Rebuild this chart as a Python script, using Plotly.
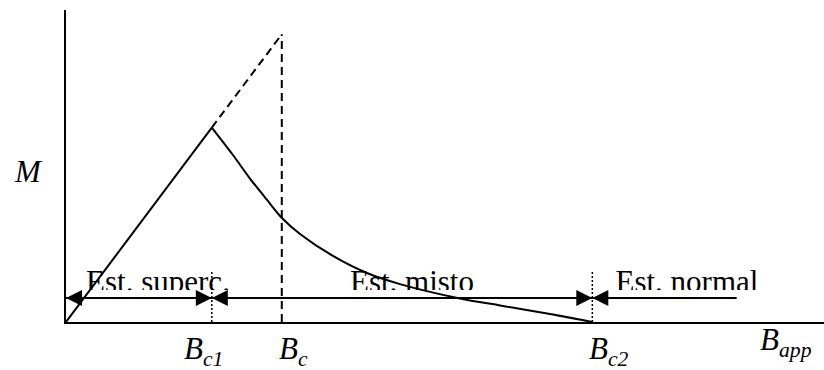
import plotly.graph_objects as go

# Characteristic field values (field in units of Bc1, magnetisation in units of M(Bc1))
B_c1 = 1.0
B_c = 1.48
B_c2 = 3.61
B_arrow_end = 4.6

# Meissner (linear) branch
B_meissner = [0.0, B_c1]
M_meissner = [0.0, 1.0]

# Extrapolated linear branch up to Bc
B_extrap = [B_c1, B_c]
M_extrap = [1.0, 1.48]

# Mixed-state magnetisation curve
B_mixed = [1.0, 1.145, 1.262, 1.379, 1.481, 1.605, 1.831, 2.064, 2.291, 2.702, 2.977, 3.320, 3.61]
M_mixed = [1.0, 0.859, 0.738, 0.628, 0.535, 0.453, 0.340, 0.252, 0.195, 0.121, 0.085, 0.041, 0.0]

# Region labels
region_labels = ["Est. superc.", "Est. misto", "Est. normal"]
region_label_x = [0.631, 2.373, 4.259]
region_label_y = 0.195

M_arrows = 0.1235
M_dotted_top = 0.257

tick_labels = ["<i>B<sub>c1</sub></i>", "<i>B<sub>c</sub></i>", "<i>B<sub>c2</sub></i>"]
tick_values = [B_c1, B_c, B_c2]

W, H = 824, 370
FONT = "Liberation Serif"
FS = 31

x_range = [0, 5.199]
y_range = [0, 1.605]
x_dom = [66 / W, 1.0]
y_dom = [(H - 322) / H, (H - 10) / H]

clip_M = 0.165
y2_dom0 = y_dom[0] + (y_dom[1] - y_dom[0]) * clip_M / y_range[1]

fig = go.Figure()
line = dict(color="black", width=2)

fig.add_trace(go.Scatter(x=B_meissner, y=M_meissner, mode="lines", line=line))
fig.add_trace(go.Scatter(x=B_extrap, y=M_extrap, mode="lines",
                         line=dict(color="black", width=2, dash="8px,5px")))
fig.add_trace(go.Scatter(x=[B_c, B_c], y=[0, M_extrap[-1]], mode="lines",
                         line=dict(color="black", width=2, dash="8px,5px")))
fig.add_trace(go.Scatter(x=B_mixed, y=M_mixed, mode="lines",
                         line=dict(color="black", width=2, shape="spline", smoothing=0.8)))

# dotted boundary markers
for b in (B_c1, B_c2):
    fig.add_trace(go.Scatter(x=[b, b], y=[0, M_dotted_top], mode="lines",
                             line=dict(color="black", width=1.5, dash="2px,2px")))

# horizontal line carrying the region arrows
fig.add_trace(go.Scatter(x=[0, B_arrow_end], y=[M_arrows, M_arrows], mode="lines", line=line))

# region labels, clipped just below their baseline
fig.add_trace(go.Scatter(x=region_label_x, y=[region_label_y] * 3, mode="text",
                         text=region_labels, textposition="middle center",
                         textfont=dict(family=FONT, size=FS, color="black"),
                         cliponaxis=True, xaxis="x2", yaxis="y2"))

annotations = []
arrow_kw = dict(xref="x", yref="y", axref="pixel", ayref="pixel", text="",
                showarrow=True, arrowhead=2, arrowsize=1.6, arrowwidth=2,
                arrowcolor="black", standoff=0, ay=0)
annotations.append(dict(x=0, y=M_arrows, ax=20, **arrow_kw))
for b in (B_c1, B_c2):
    annotations.append(dict(x=b, y=M_arrows, ax=-18, **arrow_kw))
    annotations.append(dict(x=b, y=M_arrows, ax=18, **arrow_kw))

label_shift = [-30, -5, -5]
for v, t, s in zip(tick_values, tick_labels, label_shift):
    annotations.append(dict(x=v, y=(H - 362) / H, xref="x", yref="paper", text=t,
                            showarrow=False, xanchor="left", yanchor="bottom",
                            xshift=s, yshift=-11,
                            font=dict(family=FONT, size=FS, color="black")))
annotations.append(dict(x=758 / W, y=(H - 350) / H, xref="paper", yref="paper",
                        text="<i>B<sub>app</sub></i>", showarrow=False,
                        xanchor="left", yanchor="bottom", yshift=-14,
                        font=dict(family=FONT, size=FS, color="black")))
annotations.append(dict(x=12 / W, y=(H - 171) / H, xref="paper", yref="paper",
                        text="<i>M</i>", showarrow=False, xanchor="left", yanchor="middle",
                        font=dict(family=FONT, size=FS, color="black")))

axis_common = dict(showgrid=False, zeroline=False, ticks="", showticklabels=False)
fig.update_layout(
    width=W, height=H, autosize=False,
    margin=dict(l=0, r=0, t=0, b=0),
    paper_bgcolor="white", plot_bgcolor="rgba(0,0,0,0)",
    showlegend=False,
    xaxis=dict(range=x_range, domain=x_dom, showline=True, linecolor="black",
               linewidth=2, anchor="y", **axis_common),
    yaxis=dict(range=y_range, domain=y_dom, showline=True, linecolor="black",
               linewidth=2, anchor="x", **axis_common),
    xaxis2=dict(range=x_range, domain=x_dom, visible=False, anchor="y2"),
    yaxis2=dict(range=[clip_M, y_range[1]], domain=[y2_dom0, y_dom[1]],
                visible=False, anchor="x2"),
    annotations=annotations,
)

fig.write_html("out.html")
